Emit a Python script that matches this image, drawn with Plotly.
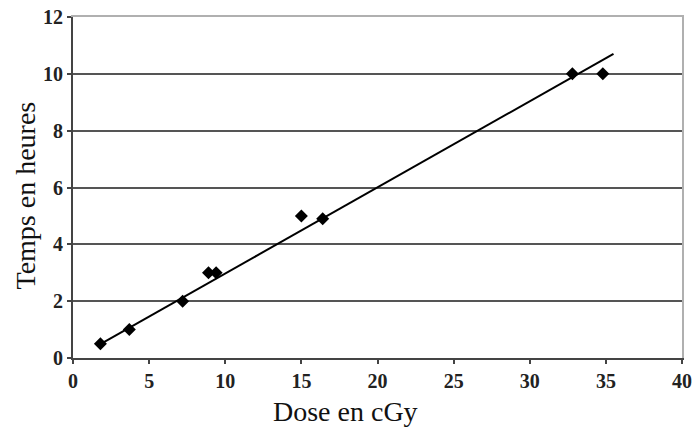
import plotly.graph_objects as go

dose = [1.8, 3.7, 7.2, 8.9, 9.4, 15.0, 16.4, 32.8, 34.8]
temps = [0.5, 1.0, 2.0, 3.0, 3.0, 5.0, 4.9, 10.0, 10.0]
trend_x = [1.8, 35.5]
trend_y = [0.49, 10.7]
x_ticks = [0, 5, 10, 15, 20, 25, 30, 35, 40]
y_ticks = [0, 2, 4, 6, 8, 10, 12]
x_title = "Dose en cGy"
y_title = "Temps en heures"

fig = go.Figure()
fig.add_trace(go.Scatter(x=trend_x, y=trend_y, mode="lines",
                         line=dict(color="black", width=2), showlegend=False))
fig.add_trace(go.Scatter(x=dose, y=temps, mode="markers",
                         marker=dict(symbol="diamond", size=10, color="black"),
                         showlegend=False))
# invisible trace so the frame axes (top/right) are drawn
fig.add_trace(go.Scatter(x=[None], y=[None], xaxis="x2", yaxis="y2",
                         showlegend=False, hoverinfo="skip"))

font = "Liberation Serif"
tickfont = dict(size=20, family=font, color="#222", weight="bold")
axis_common = dict(showline=True, linecolor="#444", linewidth=2, automargin=False,
                   ticks="outside", ticklen=4, tickcolor="#444", tickwidth=1.5,
                   zeroline=False, tickfont=tickfont, ticklabeloverflow="allow")
frame = dict(showline=True, linecolor="#b0b0b0", linewidth=2, showgrid=False,
             showticklabels=False, ticks="", zeroline=False, automargin=False)
fig.update_layout(
    width=693, height=427,
    margin=dict(l=73, r=11, t=17, b=69),
    paper_bgcolor="white", plot_bgcolor="white",
    font=dict(family=font, color="#222", size=20),
    xaxis=dict(range=[0, 40], tickvals=x_ticks, showgrid=False, **axis_common),
    yaxis=dict(range=[0, 12], tickvals=y_ticks, showgrid=True,
               gridcolor="#555", gridwidth=1.5, **axis_common),
    xaxis2=dict(overlaying="x", side="top", range=[0, 40], **frame),
    yaxis2=dict(overlaying="y", side="right", range=[0, 12], **frame),
)
fig.add_annotation(text=x_title, xref="paper", yref="paper", x=0.447, y=0,
                   yshift=-53, xanchor="center", yanchor="middle", showarrow=False,
                   font=dict(size=28, family=font, color="#111"))
fig.add_annotation(text=y_title, xref="paper", yref="paper", x=0, y=0.5,
                   xshift=-48, yshift=-8, xanchor="center", yanchor="middle",
                   textangle=-90, showarrow=False,
                   font=dict(size=28, family=font, color="#111"))

fig.write_html("out.html", config={"displayModeBar": False},
               post_script="document.body.style.margin='0';")
